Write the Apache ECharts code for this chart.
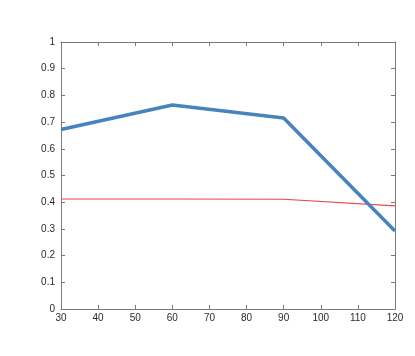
<!DOCTYPE html>
<html><head><meta charset="utf-8">
<script src="https://cdn.jsdelivr.net/npm/echarts@6/dist/echarts.min.js"></script>
<style>html,body{margin:0;padding:0;background:#fff}#c{width:415px;height:356px}</style>
</head><body><div id="c"></div>
<script>
const xValues = [30, 60, 90, 120];
const blueSeries = [0.672, 0.764, 0.715, 0.292];
const redSeries = [0.412, 0.412, 0.411, 0.386];

const blueData = xValues.map((x, i) => [x, blueSeries[i]]);
const redData = xValues.map((x, i) => [x, redSeries[i]]);

const axisColor = '#7a7a7a';
const labelStyle = { color: '#2a2a2a', fontFamily: 'Liberation Sans, Arial, sans-serif', fontSize: 10 };
const chart = echarts.init(document.getElementById('c'), null, { renderer: 'canvas' });
chart.setOption({
  animation: false,
  grid: { left: 61, right: 20, top: 42, bottom: 47, containLabel: false },
  xAxis: [
    { type: 'value', min: 30, max: 120, interval: 10, position: 'bottom',
      axisLine: { show: true, onZero: false, lineStyle: { color: axisColor, width: 1 } },
      axisTick: { show: true, inside: true, length: 4, lineStyle: { color: axisColor } },
      axisLabel: Object.assign({ margin: 4 }, labelStyle),
      splitLine: { show: false } },
    { type: 'value', min: 30, max: 120, interval: 10, position: 'top',
      axisLine: { show: true, onZero: false, lineStyle: { color: axisColor, width: 1 } },
      axisTick: { show: true, inside: true, length: 4, lineStyle: { color: axisColor } },
      axisLabel: { show: false }, splitLine: { show: false } }
  ],
  yAxis: [
    { type: 'value', min: 0, max: 1, interval: 0.1, position: 'left',
      axisLine: { show: true, onZero: false, lineStyle: { color: axisColor, width: 1 } },
      axisTick: { show: true, inside: true, length: 4, lineStyle: { color: axisColor } },
      axisLabel: Object.assign({ margin: 6, formatter: v => String(Math.round(v * 10) / 10) }, labelStyle),
      splitLine: { show: false } },
    { type: 'value', min: 0, max: 1, interval: 0.1, position: 'right',
      axisLine: { show: true, onZero: false, lineStyle: { color: axisColor, width: 1 } },
      axisTick: { show: true, inside: true, length: 4, lineStyle: { color: axisColor } },
      axisLabel: { show: false }, splitLine: { show: false } }
  ],
  series: [
    { type: 'line', data: redData, xAxisIndex: 0, yAxisIndex: 0, symbol: 'none',
      lineStyle: { color: '#e8474b', width: 1.2 }, z: 2 },
    { type: 'line', data: blueData, xAxisIndex: 0, yAxisIndex: 0, symbol: 'none',
      lineStyle: { color: '#4784bf', width: 3.5 }, z: 3 }
  ]
});
</script></body></html>
